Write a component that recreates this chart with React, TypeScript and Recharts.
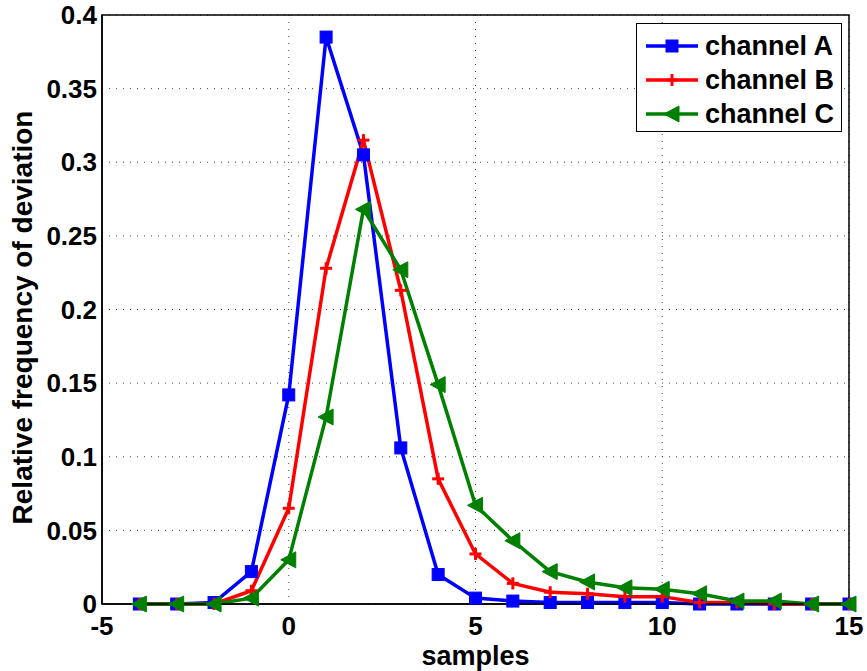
import React from "react";
import {
  LineChart, Line, XAxis, YAxis, CartesianGrid, ReferenceArea,
} from "recharts";

const samples = [-4, -3, -2, -1, 0, 1, 2, 3, 4, 5, 6, 7, 8, 9, 10, 11, 12, 13, 14, 15];
const channelA = [0, 0, 0.001, 0.022, 0.142, 0.385, 0.305, 0.106, 0.02, 0.004, 0.002, 0.001, 0.001, 0.001, 0.001, 0, 0, 0, 0, 0];
const channelB = [0, 0, 0, 0.009, 0.065, 0.228, 0.315, 0.213, 0.085, 0.034, 0.014, 0.008, 0.007, 0.005, 0.005, 0.001, 0.001, 0, 0, 0];
const channelC = [0, 0, 0, 0.004, 0.03, 0.127, 0.268, 0.227, 0.149, 0.067, 0.043, 0.022, 0.015, 0.011, 0.01, 0.007, 0.002, 0.002, 0, 0];
const xTicks = [-5, 0, 5, 10, 15];
const yTicks = [0, 0.05, 0.1, 0.15, 0.2, 0.25, 0.3, 0.35, 0.4];

const FONT = '"Liberation Sans", Arial, sans-serif';
const BLUE = "#0000ff";
const RED = "#ff0000";
const GREEN = "#008000";

const data = samples.map((s, i) => ({ s, A: channelA[i], B: channelB[i], C: channelC[i] }));

const series = [
  { key: "A", name: "channel A", color: BLUE, marker: "square" },
  { key: "B", name: "channel B", color: RED, marker: "plus" },
  { key: "C", name: "channel C", color: GREEN, marker: "triangle" },
];

function Marker({ kind, cx, cy, color }: { kind: string; cx: number; cy: number; color: string }) {
  if (kind === "square") {
    return <rect x={cx - 6} y={cy - 6} width={12} height={12} fill={color} stroke={color} />;
  }
  if (kind === "plus") {
    return (
      <g stroke={color} strokeWidth={3}>
        <line x1={cx - 6} y1={cy} x2={cx + 6} y2={cy} />
        <line x1={cx} y1={cy - 6} x2={cx} y2={cy + 6} />
      </g>
    );
  }
  return (
    <polygon
      points={`${cx - 8},${cy} ${cx + 7},${cy - 8} ${cx + 7},${cy + 8}`}
      fill={color}
      stroke={color}
    />
  );
}

function makeDot(kind: string, color: string) {
  return (p: any) => {
    if (p.cx == null || p.cy == null) return <g key={p.key} />;
    return <Marker key={p.key} kind={kind} cx={p.cx} cy={p.cy} color={color} />;
  };
}

// legend box sits over the top-right corner of the plot, like matlab's "NorthEast"
function LegendBox() {
  return (
    <div
      style={{
        position: "absolute",
        left: 636,
        top: 23,
        width: 206,
        height: 109,
        border: "1.5px solid #000",
        background: "#fff",
        padding: "5px 0 0 9px",
        fontFamily: FONT,
        fontWeight: "bold",
        fontSize: 27,
        lineHeight: "34px",
        color: "#000",
        boxSizing: "border-box",
      }}
    >
      {series.map((s) => (
        <div key={s.key} style={{ display: "flex", alignItems: "center", height: 34 }}>
          <svg width={54} height={20} style={{ marginRight: 5, flex: "none" }}>
            <line x1={0} y1={10} x2={52} y2={10} stroke={s.color} strokeWidth={3.5} />
            <Marker kind={s.marker} cx={26} cy={10} color={s.color} />
          </svg>
          <span style={{ whiteSpace: "nowrap" }}>{s.name}</span>
        </div>
      ))}
    </div>
  );
}

const tickStyle = { fontSize: 26, fontWeight: "bold", fill: "#000", fontFamily: FONT };

export default function App() {
  return (
    <div style={{ position: "absolute", left: 0, top: 0, width: 867, height: 671, background: "#fff" }}>
      <LineChart width={867} height={671} data={data} margin={{ top: 15, right: 18, left: 0, bottom: 0 }}>
        <CartesianGrid stroke="#444" strokeDasharray="1 6" strokeWidth={1} />
        <XAxis
          dataKey="s"
          type="number"
          domain={[-5, 15]}
          ticks={xTicks}
          tickSize={0}
          tickMargin={13}
          height={67}
          axisLine={{ stroke: "#000", strokeWidth: 1.5 }}
          tickLine={false}
          tick={tickStyle}
          label={({ viewBox }: any) => (
            <text
              x={viewBox.x + viewBox.width / 2}
              y={viewBox.y + 61}
              textAnchor="middle"
              fontFamily={FONT}
              fontWeight="bold"
              fontSize={27}
              fill="#000"
            >
              samples
            </text>
          )}
        />
        <YAxis
          type="number"
          domain={[0, 0.4]}
          ticks={yTicks}
          tickSize={0}
          tickMargin={5}
          width={102}
          axisLine={{ stroke: "#000", strokeWidth: 1.5 }}
          tickLine={false}
          tick={tickStyle}
          tickFormatter={(v: number) => String(Math.round(v * 100) / 100)}
          label={({ viewBox }: any) => {
            const x = viewBox.x + 32;
            const y = viewBox.y + viewBox.height / 2 + 8;
            return (
              <text
                x={x}
                y={y}
                transform={`rotate(-90 ${x} ${y})`}
                textAnchor="middle"
                fontFamily={FONT}
                fontWeight="bold"
                fontSize={28}
                fill="#000"
              >
                Relative frequency of deviation
              </text>
            );
          }}
        />
        <ReferenceArea x1={-5} x2={15} y1={0} y2={0.4} fill="none" stroke="#000" strokeWidth={1.5} />
        {series.map((s) => (
          <Line
            key={s.key}
            dataKey={s.key}
            name={s.name}
            stroke={s.color}
            strokeWidth={3.5}
            dot={makeDot(s.marker, s.color)}
            activeDot={false}
            isAnimationActive={false}
          />
        ))}
      </LineChart>
      <LegendBox />
    </div>
  );
}
